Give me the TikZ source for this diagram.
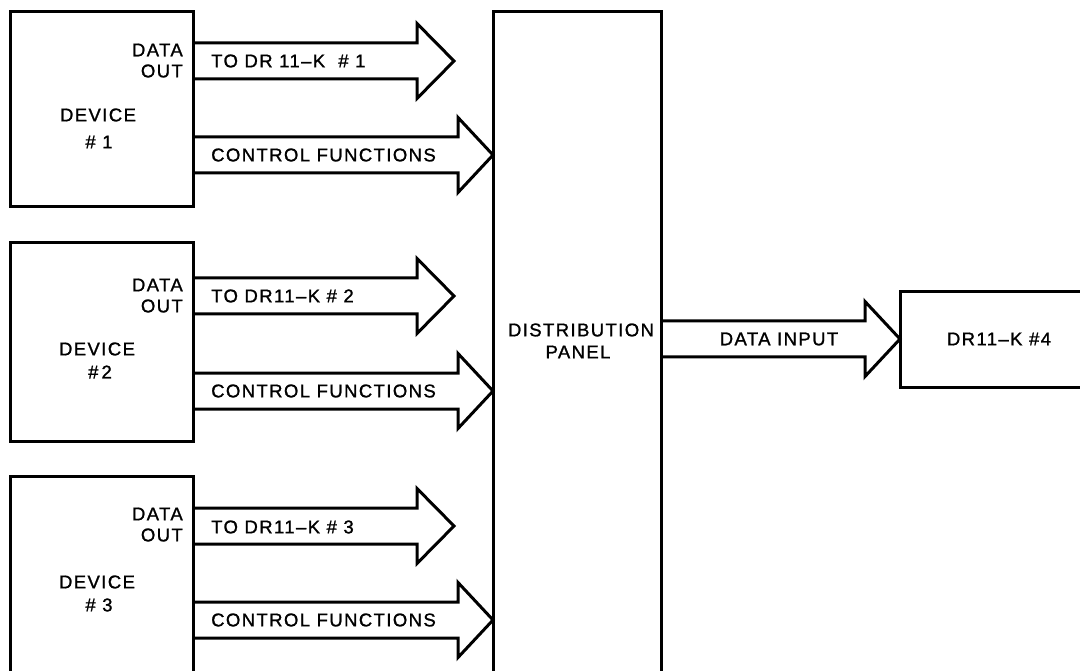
\documentclass[tikz,border=0pt]{standalone}
\usepackage{fontspec}
\setmainfont[LetterSpace=7.6,FakeBold=1.2]{Liberation Sans}
\usetikzlibrary{calc}
\tikzset{
  box/.style={draw=black, line width=3pt, rectangle, inner sep=0pt, outer sep=0pt, anchor=north west},
  lbl/.style={font=\fontsize{18.5pt}{20pt}\selectfont, inner sep=0pt, text=black},
  fatline/.style={draw=black, line width=3pt, line join=miter},
}
% #1 start, #2 tip, #3 head length
\newcommand{\fatarrow}[3]{%
  \draw[fatline] let \p1=(#1), \p2=(#2) in
    (\x1,{\y2+18pt}) -- ({\x2-#3},{\y2+18pt}) -- ({\x2-#3},{\y2+37.5pt}) --
    (\x2,\y2) -- ({\x2-#3},{\y2-37.5pt}) -- ({\x2-#3},{\y2-18pt}) -- (\x1,{\y2-18pt});
}
\begin{document}
\begin{tikzpicture}[x=1pt,y=-1pt]
\useasboundingbox (0,0) rectangle (1080,671);
\fill[white] (0,0) rectangle (1080,671);
\clip (0,0) rectangle (1080,671);

% boxes
\node[box, minimum width=183pt, minimum height=195pt] (d1) at (10,12) {};
\node[box, minimum width=183pt, minimum height=198pt] (d2) at (10,243) {};
\node[box, minimum width=183pt, minimum height=260pt] (d3) at (10,476) {};
\node[box, minimum width=168pt, minimum height=700pt] (panel) at (493,12) {};
\node[box, minimum width=220pt, minimum height=95pt] (dr4) at (900,292) {};

% arrow rows
\coordinate (t1) at (454,61);
\coordinate (t2) at (454,296);
\coordinate (t3) at (454,526);
\coordinate (c1) at (0,155);
\coordinate (c2) at (0,391);
\coordinate (c3) at (0,620);
\coordinate (di) at (0,339);

\fatarrow{d1.east |- t1}{t1}{37pt}
\fatarrow{d2.east |- t2}{t2}{37pt}
\fatarrow{d3.east |- t3}{t3}{37pt}
\fatarrow{d1.east |- c1}{panel.west |- c1}{35pt}
\fatarrow{d2.east |- c2}{panel.west |- c2}{35pt}
\fatarrow{d3.east |- c3}{panel.west |- c3}{35pt}
\fatarrow{panel.east |- di}{dr4.west |- di}{35pt}

% labels device 1
\node[lbl, anchor=east] (d1a) at (183,50) {DATA};
\node[lbl, anchor=east] (d1b) at (183,71) {OUT};
\node[lbl] (d1c) at (98,115) {DEVICE};
\node[lbl] (d1d) at (99,142) {\# 1};
\node[lbl, anchor=west] (d1e) at (211,61) {TO DR 11--K \ \# 1};
\node[lbl, anchor=west] (d1f) at (211,155) {CONTROL FUNCTIONS};
% device 2
\node[lbl, anchor=east] (d2a) at (183,285) {DATA};
\node[lbl, anchor=east] (d2b) at (183,306) {OUT};
\node[lbl] (d2c) at (97,349) {DEVICE};
\node[lbl] (d2d) at (100,372) {\#\,2};
\node[lbl, anchor=west] (d2e) at (211,296) {TO DR11--K \# 2};
\node[lbl, anchor=west] (d2f) at (211,391) {CONTROL FUNCTIONS};
% device 3
\node[lbl, anchor=east] (d3a) at (183,514) {DATA};
\node[lbl, anchor=east] (d3b) at (183,535) {OUT};
\node[lbl] (d3c) at (97,582) {DEVICE};
\node[lbl] (d3d) at (99,605) {\# 3};
\node[lbl, anchor=west] (d3e) at (211,527) {TO DR11--K \# 3};
\node[lbl, anchor=west] (d3f) at (211,620) {CONTROL FUNCTIONS};
% panel and right
\node[lbl] (p1) at (581,330) {DISTRIBUTION};
\node[lbl] (p2) at (578,352) {PANEL};
\node[lbl] (di1) at (779,339) {DATA INPUT};
\node[lbl] (dr4t) at (999,339) {DR11--K \#4};
\end{tikzpicture}
\end{document}
